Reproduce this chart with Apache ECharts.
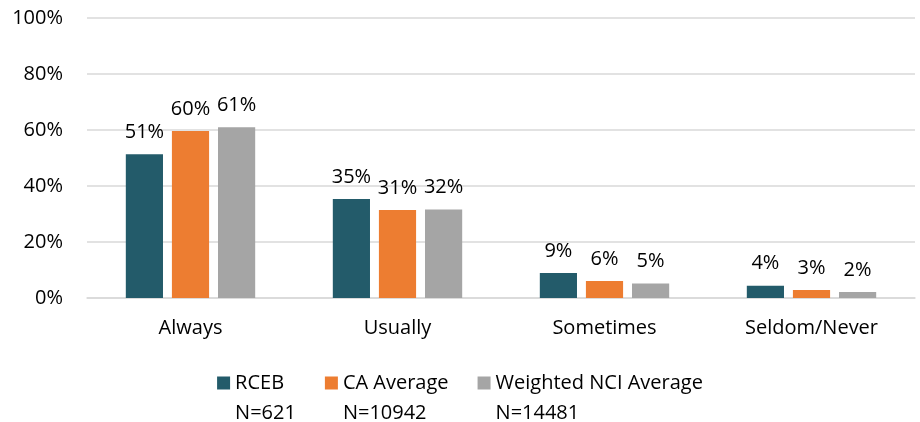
<!DOCTYPE html>
<html><head><meta charset="utf-8">
<script src="https://cdn.jsdelivr.net/npm/echarts@6/dist/echarts.min.js"></script>
<style>html,body{margin:0;padding:0;background:#fff}#c{width:920px;height:422px}</style>
</head><body><div id="c"></div>
<script>
const categories = ['Always', 'Usually', 'Sometimes', 'Seldom/Never'];
const seriesNames = ['RCEB', 'CA Average', 'Weighted NCI Average'];
const seriesN = ['N=621', 'N=10942', 'N=14481'];
const rceb = [51.3, 35.4, 8.9, 4.4];
const caAvg = [59.6, 31.4, 6.1, 2.9];
const nciAvg = [61.0, 31.6, 5.2, 2.1];
const yTicks = [0, 20, 40, 60, 80, 100];

const colors = ['#235B6A', '#ED7D31', '#A5A5A5'];
const FONT = 'Open Sans';
const FS = 20;
const chart = echarts.init(document.getElementById('c'));
const mk = (name, data, i) => ({
  name, type: 'bar', data,
  itemStyle: { color: colors[i] },
  barGap: '24%', barCategoryGap: '37.5%',
  label: { show: true, position: 'top', distance: 12, color: '#000', fontFamily: FONT, fontSize: FS,
    formatter: p => Math.round(p.value) + '%' }
});
chart.setOption({
  animation: false,
  grid: { left: 87, right: 5, top: 18, bottom: 124 },
  xAxis: { type: 'category', data: categories,
    axisLine: { lineStyle: { color: '#D9D9D9', width: 1.5 } }, axisTick: { show: false },
    axisLabel: { color: '#000', fontFamily: FONT, fontSize: FS, margin: 20 } },
  yAxis: { type: 'value', min: yTicks[0], max: yTicks[yTicks.length-1], interval: 20,
    axisLabel: { color: '#000', fontFamily: FONT, fontSize: FS, margin: 24, formatter: v => v + '%' },
    splitLine: { lineStyle: { color: '#D9D9D9', width: 1.5 } } },
  legend: { top: 338, left: 'center', padding: 0, itemWidth: 13, itemHeight: 13, itemGap: 29, icon: 'rect',
    data: seriesNames,
    formatter: n => ' \n' + n + '\n' + seriesN[seriesNames.indexOf(n)],
    textStyle: { color: '#000', fontFamily: FONT, fontSize: FS, lineHeight: 30 } },
  series: [mk(seriesNames[0], rceb, 0), mk(seriesNames[1], caAvg, 1), mk(seriesNames[2], nciAvg, 2)]
});
</script></body></html>
